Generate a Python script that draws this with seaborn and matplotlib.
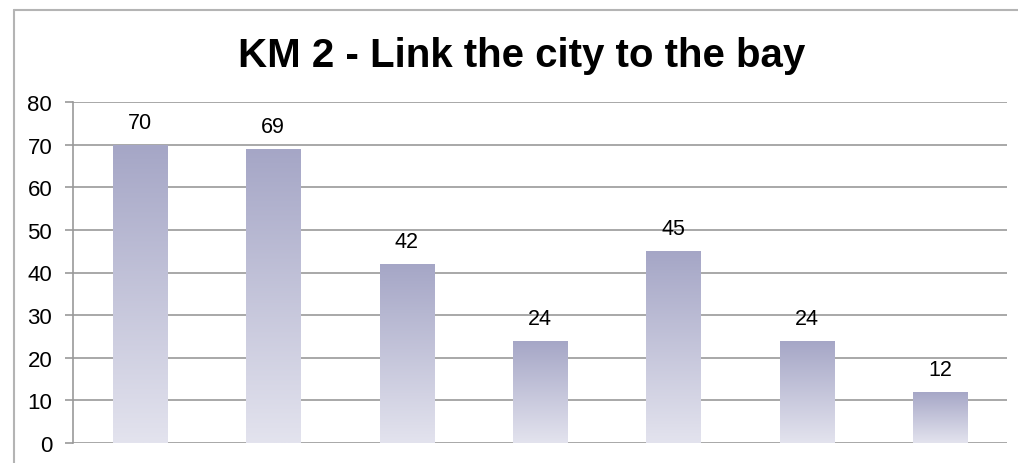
import numpy as np
import pandas as pd
import matplotlib
matplotlib.use('Agg')
import matplotlib.pyplot as plt
import seaborn as sns
from matplotlib.colors import LinearSegmentedColormap
from matplotlib.lines import Line2D

# Data (category labels are cut off in the reference)
categories = ['A', 'B', 'C', 'D', 'E', 'F', 'G']
values = [70, 69, 42, 24, 45, 24, 12]
y_ticks = [0, 10, 20, 30, 40, 50, 60, 70, 80]
title = 'KM 2 - Link the city to the bay'

sns.set_theme(style='white')
plt.rcParams['font.family'] = ['Liberation Sans', 'DejaVu Sans']

df = pd.DataFrame({'category': categories, 'value': values})

fig = plt.figure(figsize=(10.18, 4.64), dpi=100)
ax = fig.add_axes([73 / 1018, 1 - 444 / 464, (1007 - 73) / 1018, (444 - 103) / 464])

sns.barplot(data=df, x='category', y='value', ax=ax, width=0.405,
            color='#A5A6C6', saturation=1)

ax.set_yticks(y_ticks)
ax.set_xticks([])
ax.set_xlabel('')
ax.set_ylabel('')

# gradient fill for the bars
grad_cmap = LinearSegmentedColormap.from_list('bar', ['#E3E3EE', '#A5A6C6'])
gradient = np.linspace(0, 1, 256).reshape(-1, 1)
for patch in ax.patches:
    x0, y0 = patch.get_x(), patch.get_y()
    w, h = patch.get_width(), patch.get_height()
    patch.set_facecolor('none')
    patch.set_edgecolor('none')
    im = ax.imshow(gradient, cmap=grad_cmap, aspect='auto', origin='lower',
                   extent=[x0, x0 + w, y0, y0 + h], zorder=2)
    im.set_clip_path(patch)
ax.set_xlim(-0.5, len(categories) - 0.5)
ax.set_ylim(0, 80)

# value labels
for i, v in enumerate(values):
    ax.annotate(str(v), (i, v), xytext=(0, 16), textcoords='offset points',
                ha='center', va='center', fontsize=15.5, color='black')

# grid and axes styling
ax.yaxis.grid(True, color='#999999', linewidth=1.2, zorder=0)
ax.set_axisbelow(True)
for side in ['top', 'right', 'bottom']:
    ax.spines[side].set_visible(False)
ax.spines['left'].set_color('#999999')
ax.spines['left'].set_linewidth(1.2)
ax.tick_params(axis='y', which='both', left=True, length=6, width=1.2,
               color='#999999', labelsize=16, labelcolor='black', pad=9)

# chart border (left and top edges visible)
fig.add_artist(Line2D([14 / 1018, 14 / 1018], [0, 1 - 11 / 464],
                      transform=fig.transFigure, color='#B4B4B4', linewidth=1.5))
fig.add_artist(Line2D([14 / 1018, 1], [1 - 11 / 464, 1 - 11 / 464],
                      transform=fig.transFigure, color='#B4B4B4', linewidth=1.5))

fig.text(522 / 1018, 1 - 67 / 464, title, ha='center', va='baseline',
         fontsize=29, fontweight='bold', color='black')

fig.savefig('out.png', dpi=100)
